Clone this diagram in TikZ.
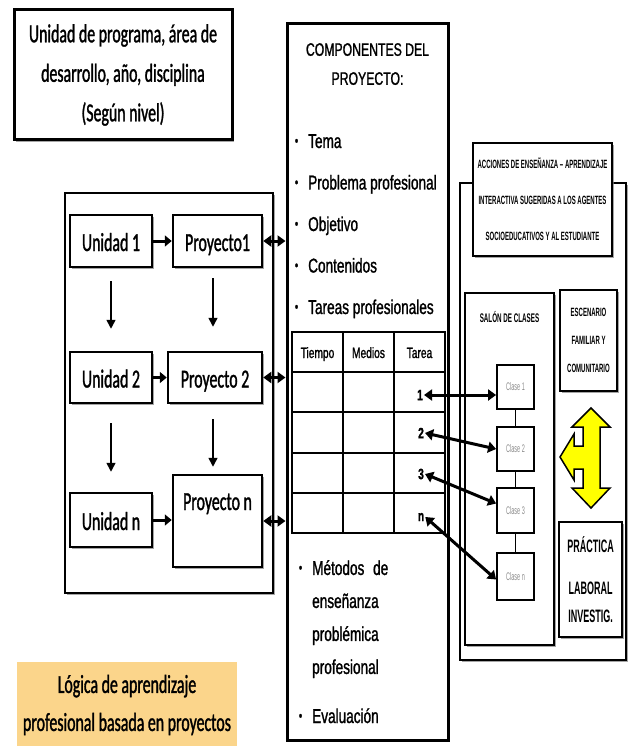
\documentclass[tikz,border=0pt]{standalone}
\usepackage{fontspec}
\setmainfont{Liberation Sans}
\newfontfamily\fcal[FakeStretch=0.61,FakeBold=1.2]{Carlito}
\newfontfamily\farial[FakeStretch=0.68,FakeBold=1.2]{Liberation Sans}
\newfontfamily\fcond[FakeStretch=0.5]{Liberation Sans}
\usetikzlibrary{arrows.meta,shadows}

\definecolor{logica}{RGB}{251,213,139}
\definecolor{flecha}{RGB}{255,255,0}

% font sizes
\newcommand\calsize{\fcal\fontsize{26pt}{39.5pt}\selectfont}
\newcommand\compsize{\farial\fontsize{20pt}{33pt}\selectfont}
\newcommand\tablasize{\farial\fontsize{15pt}{15pt}\selectfont}
\newcommand\condsize{\fcond\bfseries\fontsize{12pt}{36pt}\selectfont}
\newcommand\clasesize{\fcond\fontsize{11pt}{11pt}\selectfont}
% bullet hanging to the left of an item
\newcommand\bul{\llap{\raisebox{2.5pt}{\fontsize{14pt}{14pt}\selectfont\textbullet}\hspace{10pt}}}

\tikzset{
  ubox/.style={draw, fill=white, line width=2.5pt, inner sep=0pt,
    drop shadow={shadow xshift=2pt, shadow yshift=-2pt, fill=black!50, opacity=0.7}},
  clasebox/.style={draw, fill=white, line width=1.8pt, inner sep=0pt,
    minimum width=37pt, font=\clasesize, text=black!45},
  unitxt/.style={font=\calsize, text height=20pt, text depth=0pt},
  item/.style={anchor=base west, inner sep=0pt, font=\compsize},
  harr/.style={line width=3pt, -{Triangle[length=7pt,width=11pt]}},
  darr/.style={line width=1.6pt, -{Triangle[length=9pt,width=9pt]}},
  dblarr/.style={line width=3pt,
    {Triangle[length=8pt,width=11pt]}-{Triangle[length=8pt,width=11pt]}},
  tline/.style={line width=2pt},
}

\begin{document}
\begin{tikzpicture}[x=1pt,y=-1pt]
\useasboundingbox (0,0) rectangle (631,746);

% ---------- level box ----------
\node[ubox, line width=3pt, minimum width=218pt, minimum height=130pt,
      align=center, font=\calsize] (nivel) at (123,75)
  {Unidad de programa, área de\\desarrollo, año, disciplina\\(Según nivel)};

% ---------- units and projects ----------
\node[ubox, line width=2pt, minimum width=208pt, minimum height=400pt] (marco) at (169,393) {};

\node[ubox, unitxt, minimum width=82pt, minimum height=52pt] (u1) at (111,241) {Unidad 1};
\node[ubox, unitxt, minimum width=89pt, minimum height=52pt] (p1) at (217.5,241) {Proyecto1};
\node[ubox, unitxt, minimum width=82pt, minimum height=51pt] (u2) at (111,377.5) {Unidad 2};
\node[ubox, unitxt, minimum width=94pt, minimum height=51pt] (p2) at (215,377.5) {Proyecto 2};
\node[ubox, unitxt, minimum width=82pt, minimum height=54pt] (un) at (111,520) {Unidad n};
\node[ubox, minimum width=89pt, minimum height=92pt] (pn) at (217.5,521) {};
\node[font=\calsize, anchor=base, inner sep=0pt] (pntxt) at (217.5,510) {Proyecto n};

\draw[harr] (u1) -- (p1);
\draw[harr] (u2) -- (p2);
\draw[harr] (un.east) -- (un.east -| pn.west);

\draw[darr] ([yshift=-13pt]u1.south) -- ([yshift=22pt]u2.north);
\draw[darr] ([yshift=-19pt]u2.south) -- ([yshift=20pt]un.north);
\draw[darr] ([xshift=-4.5pt,yshift=-10pt]p1.south) -- ([xshift=-2pt,yshift=24pt]p2.north);
\draw[darr] ([xshift=-2pt,yshift=-15pt]p2.south) -- ([xshift=-4.5pt,yshift=7pt]pn.north);

% ---------- project components ----------
\node[ubox, line width=3pt, minimum width=161pt, minimum height=716pt] (comp) at (367.5,382) {};

\draw[dblarr] (p1.east) -- (p1.east -| comp.west);
\draw[dblarr] (p2.east) -- (p2.east -| comp.west);
\draw[dblarr] (pn.east) -- (pn.east -| comp.west);

\node[font=\farial\fontsize{18pt}{29pt}\selectfont, align=center, anchor=north, inner sep=0pt]
  (cabecera) at (367.5,43) {COMPONENTES DEL\\PROYECTO:};

\node[item] (tema) at (308,148) {\bul Tema};
\node[item] (problema) at (308,189.5) {\bul Problema profesional};
\node[item] (objetivo) at (308,231) {\bul Objetivo};
\node[item] (contenidos) at (308,272.5) {\bul Contenidos};
\node[item] (tareas) at (308,314) {\bul Tareas profesionales};

% task table
\draw[tline] (292,332) rectangle (445,533);
\foreach \yy in {372,412,453,493} \draw[tline] (292,\yy) -- (445,\yy);
\foreach \xx in {343,394} \draw[tline] (\xx,332) -- (\xx,533);
\node[font=\tablasize, anchor=base] (tiempo) at (317.5,358) {Tiempo};
\node[font=\tablasize, anchor=base] (medios) at (368.5,358) {Medios};
\node[font=\tablasize, anchor=base] (tarea) at (419.5,358) {Tarea};
\node[font=\tablasize\bfseries, inner sep=1pt] (t1) at (420,395) {1};
\node[font=\tablasize\bfseries, inner sep=1pt] (t2) at (421,433) {2};
\node[font=\tablasize\bfseries, inner sep=1pt] (t3) at (421,474) {3};
\node[font=\tablasize\bfseries, inner sep=1pt] (tn) at (421,517) {n};

\node[item, anchor=north west, align=left] (metodos) at (312,560)
  {\bul Métodos\hspace{5pt} de\\enseñanza\\problémica\\profesional};
\node[item] (evaluacion) at (312,723) {\bul Evaluación};

% ---------- teaching scenarios ----------
\node[ubox, line width=2pt, minimum width=166pt, minimum height=477pt] (escena) at (543,421.5) {};
\node[ubox, minimum width=139pt, minimum height=113pt, align=center, font=\condsize]
  (acciones) at (542.5,199.5)
  {ACCIONES DE ENSEÑANZA – APRENDIZAJE\\INTERACTIVA SUGERIDAS A LOS AGENTES\\SOCIOEDUCATIVOS Y AL ESTUDIANTE};

\node[ubox, minimum width=89pt, minimum height=352pt] (salon) at (509.5,469) {};
\node[font=\fcond\bfseries\fontsize{12.5pt}{12.5pt}\selectfont, anchor=base, inner sep=0pt]
  (salontxt) at (509.5,322) {SALÓN DE CLASES};

\node[ubox, minimum width=57pt, minimum height=101pt, align=center,
      font=\fcond\bfseries\fontsize{12pt}{28pt}\selectfont] (familia) at (588.5,340.5)
  {ESCENARIO\\FAMILIAR Y\\COMUNITARIO};

\node[ubox, minimum width=63pt, minimum height=115pt, align=center,
      font=\fcond\bfseries\fontsize{18pt}{28pt}\selectfont] (practica) at (590.5,579.5)
  {PRÁCTICA\\[14pt]LABORAL\\INVESTIG.};

\node[clasebox, minimum height=44pt] (c1) at (515.5,387) {Clase 1};
\node[clasebox, minimum height=44pt] (c2) at (515.5,449) {Clase 2};
\node[clasebox, minimum height=45pt] (c3) at (515.5,510.5) {Clase 3};
\node[clasebox, minimum height=47pt] (cn) at (515.5,576.5) {Clase n};
\draw[line width=1.5pt] (c1) -- (c2);
\draw[line width=1.5pt] (c2) -- (c3);
\draw[line width=1.5pt] (c3) -- (cn);

\draw[dblarr] (t1.east) -- (t1.east -| c1.west);
\draw[dblarr] (t2.east) -- (c2.west);
\draw[dblarr] (t3.east) -- ([yshift=7pt]c3.west);
\draw[dblarr] (tn.east) -- ([yshift=-3pt]cn.west);

% three-way yellow arrow
\draw[line width=1.5pt, fill=flecha, line join=miter]
  (591,408) -- (610,427) -- (600,427) -- (600,488) -- (610,488) -- (591,508)
  -- (572,488) -- (583,488) -- (583,469) -- (574,469) -- (574,480) -- (560,457)
  -- (574,434) -- (574,446) -- (583,446) -- (583,427) -- (572,427) -- cycle;

% ---------- caption ----------
\node[fill=logica, minimum width=220pt, minimum height=86pt, align=center,
      font=\fcal\fontsize{26pt}{38pt}\selectfont] (logica) at (127,705)
  {Lógica de aprendizaje\\profesional basada en proyectos};
\end{tikzpicture}
\end{document}
